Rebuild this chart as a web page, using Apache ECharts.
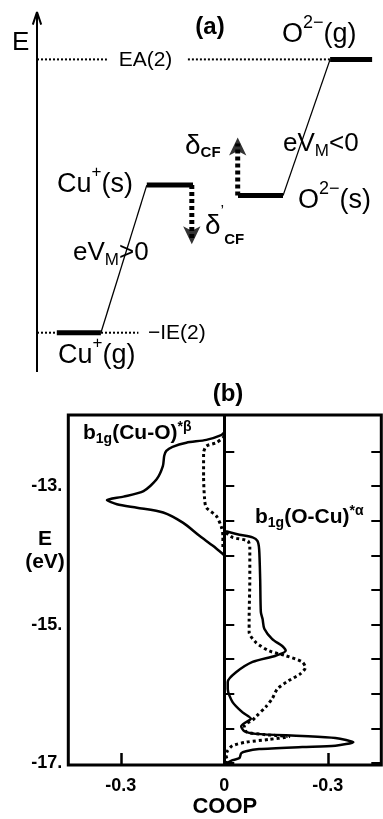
<!DOCTYPE html>
<html>
<head>
<meta charset="utf-8">
<style>
  html, body { margin: 0; padding: 0; background: #fff; }
  #chart { width: 383px; height: 819px; }
</style>
<script src="https://cdn.jsdelivr.net/npm/echarts@6/dist/echarts.min.js"></script>
</head>
<body>
<div id="chart"></div>
<script>
// ---------- (a) energy-level scheme (arbitrary energy units) ----------
// horizontal levels: Cu+(g), Cu+(s), O2-(s), O2-(g)
const levelEnergy = [1.31, 6.23, 5.88, 10.42];
const levelFrom   = [0.66, 3.66, 6.70, 9.77];
const levelTo     = [2.13, 5.20, 8.20, 11.17];
// reference levels: -IE(2) and EA(2), drawn as dotted segments
const ieEnergy = 1.31;
const ieSegments = [[0, 3.38]];
const eaEnergy = 10.42;
const eaSegments = [[0, 2.33], [5.03, 9.77]];
// Madelung shifts: gas-phase level -> solid-state level
const madelungFrom = [[2.13, 1.31], [8.20, 5.88]];
const madelungTo   = [[3.66, 6.23], [9.77, 10.42]];
// crystal-field shifts: column, start energy, end energy
const cfColumn = [6.69, 5.16];
const cfStart  = [5.88, 6.23];
const cfEnd    = [8.12, 3.96];
// energy axis of the scheme
const schemeAxis = [0, 12];

// ---------- (b) COOP curves: [COOP, E (eV)] ----------
const betaSolid = [
  [0, -12.22], [-0.009, -12.26], [-0.052, -12.33], [-0.110, -12.37], [-0.150, -12.43],
  [-0.168, -12.49], [-0.174, -12.56], [-0.178, -12.71], [-0.196, -12.90], [-0.234, -13.07],
  [-0.292, -13.15], [-0.340, -13.20], [-0.311, -13.26], [-0.253, -13.31], [-0.177, -13.38],
  [-0.119, -13.53], [-0.071, -13.72], [-0.033, -13.86], [-0.004, -13.98], [0, -14.0]
];
const betaDotted = [
  [0, -12.27], [-0.004, -12.30], [-0.023, -12.37], [-0.052, -12.42], [-0.060, -12.52],
  [-0.060, -12.86], [-0.057, -13.19], [-0.052, -13.31], [-0.023, -13.43], [-0.009, -13.58],
  [-0.004, -13.72], [-0.004, -13.91]
];
const alphaSolid = [
  [0.005, -13.65], [0.044, -13.70], [0.082, -13.74], [0.096, -13.79], [0.101, -13.91],
  [0.104, -14.34], [0.106, -14.82], [0.111, -14.92], [0.116, -15.06], [0.139, -15.21],
  [0.168, -15.31], [0.178, -15.38], [0.149, -15.45], [0.082, -15.54], [0.034, -15.69],
  [0.010, -15.83], [0.010, -15.93], [0.024, -16.12], [0.053, -16.27], [0.077, -16.36],
  [0.063, -16.41], [0.049, -16.47], [0.058, -16.54], [0.092, -16.58], [0.226, -16.61],
  [0.322, -16.64], [0.374, -16.70], [0.322, -16.75], [0.226, -16.77], [0.101, -16.80],
  [0.063, -16.83], [0.049, -16.86], [0.044, -16.93], [0.024, -16.96], [0.005, -17.01]
];
const alphaDotted = [
  [0.005, -13.67], [0.024, -13.74], [0.068, -13.79], [0.074, -13.88], [0.074, -14.34],
  [0.072, -14.92], [0.072, -15.11], [0.092, -15.26], [0.130, -15.38], [0.178, -15.45],
  [0.226, -15.54], [0.235, -15.62], [0.221, -15.71], [0.187, -15.81], [0.154, -15.93],
  [0.139, -16.07], [0.120, -16.19], [0.092, -16.33], [0.082, -16.38], [0.058, -16.46],
  [0.064, -16.55], [0.116, -16.59], [0.187, -16.62], [0.130, -16.66], [0.063, -16.70],
  [0.024, -16.75], [0.010, -16.82], [0.005, -16.89], [0.009, -16.97], [0, -17.03]
];
// ticks and tick labels of (b)
const energyTicks = [-17, -16.5, -16, -15.5, -15, -14.5, -14, -13.5, -13, -12.5];
const energyLabelValues = [-17, -15, -13];
const coopTicks = [-0.3, 0.3];
const coopLabelValues = [-0.3, 0, 0.3];
const coopLabelText = ['-0.3', '0', '-0.3'];

const FONT = "'Liberation Sans', Arial, Helvetica, sans-serif";
const BLACK = '#000';

function tok(size, extra) {
  return Object.assign({ fontSize: size, fontFamily: FONT, fill: BLACK }, extra || {});
}
function label(x, y, text, rich, align) {
  return {
    type: 'text', x: x, y: y, z: 100,
    style: {
      text: text, rich: rich, fontFamily: FONT, fontSize: 20, fill: BLACK,
      align: align || 'left', verticalAlign: 'middle',
      textAlign: align || 'left', textVerticalAlign: 'middle'
    }
  };
}

// series for (a)
const schemeSeries = [];
function schemeLine(data, style, z) {
  schemeSeries.push({
    type: 'line', xAxisIndex: 0, yAxisIndex: 0, data: data, symbol: 'none',
    clip: false, silent: true, z: z || 2, animation: false,
    lineStyle: Object.assign({ color: BLACK, width: 2 }, style)
  });
}
// energy axis with open arrow head
schemeLine([[0, schemeAxis[0]], [0, schemeAxis[1]]], { width: 2 }, 3);
schemeLine([[-0.14, schemeAxis[1] - 0.42], [0, schemeAxis[1]], [0.14, schemeAxis[1] - 0.42]], { width: 2 }, 3);
// reference dotted levels
ieSegments.forEach(s => schemeLine([[s[0], ieEnergy], [s[1], ieEnergy]], { width: 2, type: [2, 2] }));
eaSegments.forEach(s => schemeLine([[s[0], eaEnergy], [s[1], eaEnergy]], { width: 2, type: [2, 2] }));
// levels
levelEnergy.forEach((e, i) => schemeLine([[levelFrom[i], e], [levelTo[i], e]], { width: 5, cap: 'butt' }, 4));
// Madelung connectors
madelungFrom.forEach((p, i) => schemeLine([p, madelungTo[i]], { width: 1.3 }, 3));
// crystal-field shafts (stop at the arrow head)
cfColumn.forEach((x, i) => {
  const dir = Math.sign(cfEnd[i] - cfStart[i]);
  schemeLine([[x, cfStart[i]], [x, cfEnd[i] - dir * 0.5]], { width: 5, type: [4, 3] }, 3);
});
// crystal-field arrow heads
schemeSeries.push({
  type: 'scatter', xAxisIndex: 0, yAxisIndex: 0, silent: true, animation: false, clip: false,
  symbol: 'arrow', symbolSize: [13, 18], z: 5,
  itemStyle: { color: BLACK },
  data: cfColumn.map((x, i) => {
    const up = cfEnd[i] > cfStart[i];
    return {
      value: [x, cfEnd[i]],
      symbolRotate: up ? 0 : 180,
      symbolOffset: [0, up ? '50%' : '-50%']
    };
  })
});

// series for (b)
function coopLine(data, dotted) {
  return {
    type: 'line', xAxisIndex: 1, yAxisIndex: 1, data: data, symbol: 'none',
    smooth: 0.25, silent: true, animation: false, z: dotted ? 3 : 4,
    lineStyle: dotted ? { color: BLACK, width: 3, type: [3, 3] } : { color: BLACK, width: 2.5 }
  };
}
const coopSeries = [
  coopLine(betaSolid, false),
  coopLine(betaDotted, true),
  coopLine(alphaSolid, false),
  coopLine(alphaDotted, true)
];
coopSeries[0].markLine = {
  silent: true, symbol: 'none', animation: false,
  label: { show: false },
  lineStyle: { color: BLACK, width: 3, type: 'solid' },
  data: [{ xAxis: 0 }]
};

const tickStyle = { color: BLACK, width: 2 };
const option = {
  backgroundColor: '#fff',
  animation: false,
  grid: [
    { left: 7, top: 12, width: 376, height: 360 },
    { left: 68.3, top: 415, width: 313, height: 352, show: true,
      borderColor: BLACK, borderWidth: 3, backgroundColor: 'transparent' }
  ],
  xAxis: [
    { gridIndex: 0, type: 'value', min: -1, max: 11.533, show: false },
    { gridIndex: 1, type: 'value', min: -0.452, max: 0.455,
      axisLine: { show: false }, splitLine: { show: false },
      axisTick: { show: true, inside: true, length: 12, customValues: coopTicks, lineStyle: { color: BLACK, width: 2.5 } },
      axisLabel: {
        customValues: coopLabelValues, margin: 12,
        formatter: v => coopLabelText[coopLabelValues.indexOf(+v)] ?? String(v),
        color: BLACK, fontFamily: FONT, fontSize: 18, fontWeight: 'bold'
      },
      name: 'COOP', nameLocation: 'middle', nameGap: 31,
      nameTextStyle: { color: BLACK, fontFamily: FONT, fontSize: 22, fontWeight: 'bold' }
    }
  ],
  yAxis: [
    { gridIndex: 0, type: 'value', min: 0, max: 12, show: false },
    { gridIndex: 1, type: 'value', min: -17.03, max: -11.97, position: 'left',
      axisLine: { show: false }, splitLine: { show: false },
      axisTick: { show: true, inside: true, length: 10, customValues: energyTicks, lineStyle: tickStyle },
      axisLabel: {
        customValues: energyLabelValues, margin: 6,
        formatter: v => Math.round(v) + '.',
        color: BLACK, fontFamily: FONT, fontSize: 18, fontWeight: 'bold'
      }
    },
    { gridIndex: 1, type: 'value', min: -17.03, max: -11.97, position: 'right',
      axisLine: { show: false }, splitLine: { show: false },
      axisTick: { show: true, inside: true, length: 10, customValues: energyTicks, lineStyle: tickStyle },
      axisLabel: { show: false }
    }
  ],
  series: schemeSeries.concat(coopSeries),
  graphic: [
    // (a)
    label(12, 43, 'E', { m: tok(26) }),
    label(210, 27, '(a)', { m: tok(24, { fontWeight: 'bold' }) }, 'center'),
    label(282, 35, '{m|O}{p|2−}{m|(g)}', { m: tok(27), p: tok(18, { verticalAlign: 'top', padding: [0, 0, 24, 0] }) }),
    label(145.5, 60, 'EA(2)', { m: tok(21) }, 'center'),
    label(185, 146, '{m|δ}{s|CF}', { m: tok(28), s: tok(15, { fontWeight: 'bold', verticalAlign: 'bottom', padding: [14, 0, 0, 0] }) }),
    label(283, 144, '{m|eV}{s|M}{m|<0}', { m: tok(26), s: tok(17, { verticalAlign: 'bottom', padding: [14, 0, 0, 0] }) }),
    label(57, 185, '{m|Cu}{p|+}{m|(s)}', { m: tok(27), p: tok(17, { verticalAlign: 'top', padding: [0, 0, 26, 0] }) }),
    label(298, 201, '{m|O}{p|2−}{m|(s)}', { m: tok(27), p: tok(18, { verticalAlign: 'top', padding: [0, 0, 24, 0] }) }),
    label(205, 226, '{m|δ}{p|’}{s|CF}', {
      m: tok(28),
      p: tok(16, { verticalAlign: 'top', padding: [0, 0, 26, 0] }),
      s: tok(15, { fontWeight: 'bold', verticalAlign: 'bottom', padding: [26, 0, 0, 0] })
    }),
    label(73, 253, '{m|eV}{s|M}{m|>0}', { m: tok(26), s: tok(17, { verticalAlign: 'bottom', padding: [14, 0, 0, 0] }) }),
    label(148, 333, '−IE(2)', { m: tok(21) }),
    label(58, 356, '{m|Cu}{p|+}{m|(g)}', { m: tok(27), p: tok(17, { verticalAlign: 'top', padding: [0, 0, 26, 0] }) }),
    // (b)
    label(228, 394, '(b)', { m: tok(24, { fontWeight: 'bold' }) }, 'center'),
    label(83, 433, '{m|b}{s|1g}{m|(Cu-O)}{p|*β}', {
      m: tok(21, { fontWeight: 'bold' }),
      s: tok(14, { fontWeight: 'bold', verticalAlign: 'bottom', padding: [12, 0, 0, 0] }),
      p: tok(14, { fontWeight: 'bold', verticalAlign: 'top', padding: [0, 0, 12, 0] })
    }),
    label(255, 517, '{m|b}{s|1g}{m|(O-Cu)}{p|*α}', {
      m: tok(21, { fontWeight: 'bold' }),
      s: tok(14, { fontWeight: 'bold', verticalAlign: 'bottom', padding: [12, 0, 0, 0] }),
      p: tok(14, { fontWeight: 'bold', verticalAlign: 'top', padding: [0, 0, 12, 0] })
    }),
    label(45, 539, 'E', { m: tok(21, { fontWeight: 'bold' }) }, 'center'),
    label(45, 562, '(eV)', { m: tok(21, { fontWeight: 'bold' }) }, 'center')
  ]
};

// plain labels: wrap text into the "m" rich style
option.graphic.forEach(g => {
  if (g.style.text.indexOf('{') < 0) g.style.text = '{m|' + g.style.text + '}';
});

const chart = echarts.init(document.getElementById('chart'), null, { renderer: 'canvas' });
chart.setOption(option);
</script>
</body>
</html>
